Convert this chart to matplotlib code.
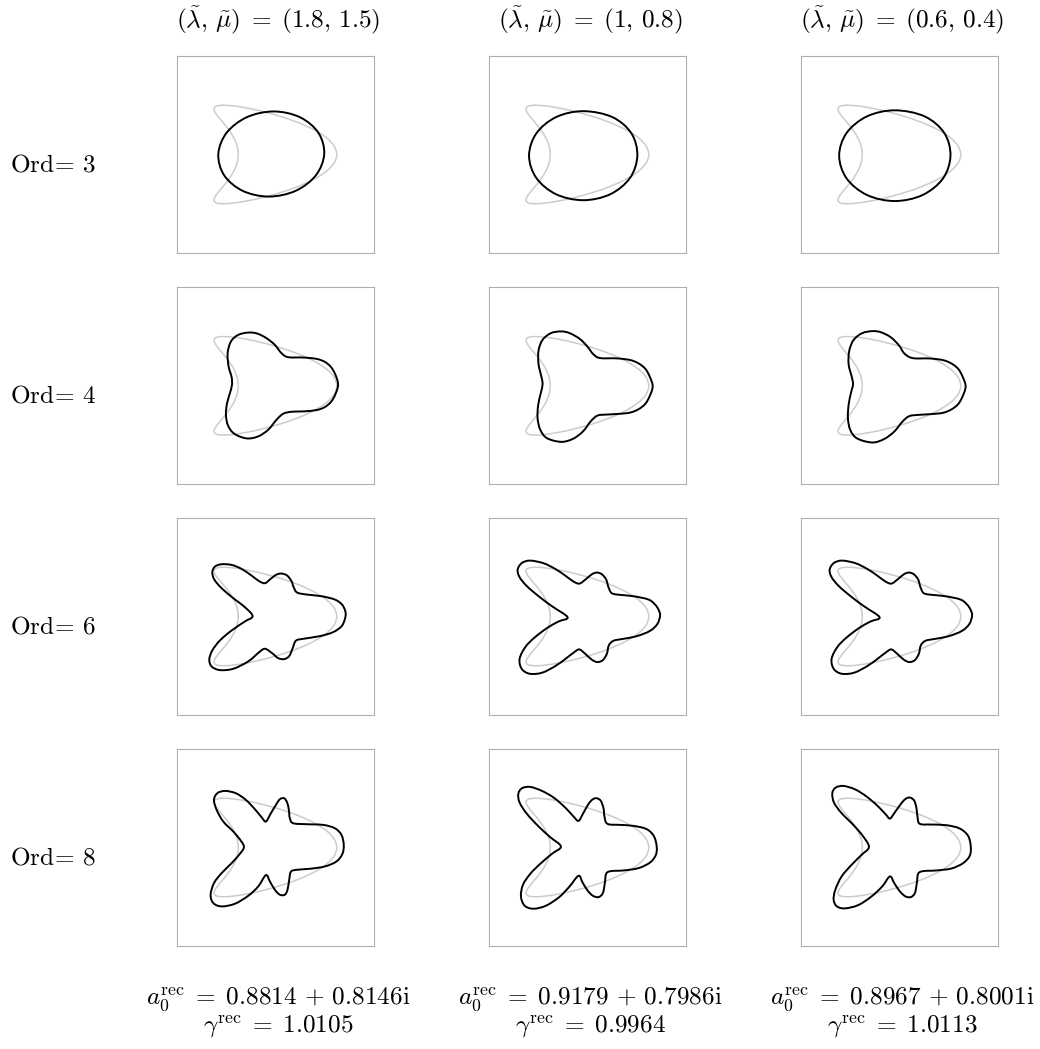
import numpy as np
import matplotlib
matplotlib.use("Agg")
import matplotlib.pyplot as plt
from matplotlib.path import Path
from matplotlib.patches import PathPatch

plt.rcParams['mathtext.fontset'] = 'cm'
plt.rcParams['font.family'] = 'serif'
plt.rcParams['font.serif'] = ['cmr10', 'DejaVu Serif']

# column parameters and reconstructed quantities
lam = ["1.8", "1", "0.6"]
mu = ["1.5", "0.8", "0.4"]
orders = [3, 4, 6, 8]
a0_rec = ["0.8814", "0.9179", "0.8967"]
a0_rec_im = ["0.8146", "0.7986", "0.8001"]
gamma_rec = ["1.0105", "0.9964", "1.0113"]

# exact obstacle (gray), upper half, lower half mirrored
kite_x = [1.000, 0.946, 0.788, 0.541, 0.229, -0.120, -0.475, -0.806, -1.087,
          -1.300, -1.434, -1.490, -1.475, -1.406, -1.303, -1.191, -1.092, -1.024, -1.000]
kite_y = [0.000, 0.174, 0.342, 0.500, 0.643, 0.766, 0.866, 0.940, 0.985,
          1.000, 0.985, 0.940, 0.866, 0.766, 0.643, 0.500, 0.342, 0.174, 0.000]

# reconstructed boundaries (black), points along the curve, counter-clockwise
rec_o3_c1 = [(0.745, 0.01), (0.626, 0.442), (0.25, 0.758), (-0.28, 0.874), (-0.824, 0.758),
             (-1.236, 0.442), (-1.405, 0.01), (-1.286, -0.422), (-0.91, -0.738), (-0.38, -0.854),
             (0.164, -0.738), (0.576, -0.422)]
rec_o3_c2 = [(0.768, -0.024), (0.648, 0.428), (0.262, 0.759), (-0.332, 0.88), (-0.882, 0.759),
             (-1.283, 0.428), (-1.431, -0.024), (-1.283, -0.476), (-0.882, -0.807), (-0.332, -0.928),
             (0.218, -0.807), (0.619, -0.476)]
rec_o3_c3 = [(0.791, -0.024), (0.665, 0.437), (0.266, 0.774), (-0.339, 0.897), (-0.904, 0.774),
             (-1.318, 0.437), (-1.469, -0.024), (-1.318, -0.485), (-0.904, -0.822), (-0.339, -0.945),
             (0.226, -0.822), (0.640, -0.485)]

rec_o4_c1 = [(1.027, 0.027), (0.973, 0.223), (0.885, 0.378), (0.757, 0.486), (0.588, 0.547),
             (0.318, 0.574), (0.014, 0.581), (-0.122, 0.662), (-0.257, 0.831), (-0.426, 0.966),
             (-0.615, 1.061), (-0.797, 1.081), (-1.0, 1.034), (-1.149, 0.899), (-1.216, 0.662),
             (-1.196, 0.392), (-1.135, 0.176), (-1.128, 0.02), (-1.169, -0.149), (-1.23, -0.365),
             (-1.25, -0.588), (-1.209, -0.804), (-1.081, -0.973), (-0.831, -1.068), (-0.595, -1.027),
             (-0.392, -0.892), (-0.223, -0.689), (-0.088, -0.568), (0.081, -0.527), (0.318, -0.520),
             (0.588, -0.493), (0.757, -0.432), (0.885, -0.324), (0.973, -0.169)]
rec_o4_c2 = [(1.080, -0.010), (1.019, 0.188), (0.930, 0.345), (0.793, 0.455), (0.622, 0.523),
             (0.349, 0.557), (0.007, 0.564), (-0.130, 0.646), (-0.246, 0.797), (-0.403, 0.954),
             (-0.608, 1.070), (-0.779, 1.104), (-0.985, 1.070), (-1.156, 0.933), (-1.238, 0.715),
             (-1.238, 0.441), (-1.176, 0.168), (-1.156, 0.031), (-1.190, -0.140), (-1.244, -0.380),
             (-1.258, -0.653), (-1.203, -0.892), (-1.067, -1.063), (-0.779, -1.138), (-0.540, -1.077),
             (-0.335, -0.926), (-0.178, -0.721), (-0.041, -0.605), (0.144, -0.584), (0.383, -0.571),
             (0.622, -0.544), (0.793, -0.475), (0.930, -0.366), (1.019, -0.209)]
rec_o4_c3 = [(1.099, -0.014), (1.038, 0.185), (0.949, 0.342), (0.812, 0.452), (0.640, 0.521),
             (0.366, 0.555), (0.024, 0.562), (-0.147, 0.658), (-0.250, 0.815), (-0.421, 0.986),
             (-0.627, 1.089), (-0.798, 1.110), (-1.003, 1.068), (-1.175, 0.932), (-1.264, 0.712),
             (-1.277, 0.438), (-1.209, 0.164), (-1.188, 0.027), (-1.229, -0.144), (-1.277, -0.384),
             (-1.291, -0.658), (-1.243, -0.897), (-1.106, -1.068), (-0.798, -1.151), (-0.558, -1.082),
             (-0.353, -0.932), (-0.182, -0.726), (-0.045, -0.616), (0.161, -0.589), (0.401, -0.575),
             (0.640, -0.548), (0.812, -0.479), (0.949, -0.370), (1.038, -0.212)]

rec_o6_c1 = [(1.182, 0.054), (1.155, 0.16), (1.095, 0.255), (0.959, 0.345), (0.689, 0.412),
             (0.385, 0.446), (0.196, 0.486), (0.128, 0.588), (0.081, 0.716), (-0.007, 0.831),
             (-0.122, 0.872), (-0.236, 0.845), (-0.358, 0.750), (-0.459, 0.676), (-0.574, 0.716),
             (-0.730, 0.831), (-0.932, 0.966), (-1.135, 1.047), (-1.338, 1.061), (-1.473, 1.014),
             (-1.527, 0.899), (-1.486, 0.750), (-1.338, 0.574), (-1.101, 0.372), (-0.865, 0.189),
             (-0.709, 0.007), (-0.865, -0.101), (-1.135, -0.284), (-1.372, -0.486), (-1.527, -0.689),
             (-1.588, -0.872), (-1.541, -1.014), (-1.372, -1.088), (-1.101, -1.061), (-0.797, -0.912),
             (-0.574, -0.723), (-0.459, -0.655), (-0.324, -0.736), (-0.189, -0.845), (-0.068, -0.865),
             (0.034, -0.804), (0.101, -0.655), (0.169, -0.493), (0.318, -0.453), (0.655, -0.399),
             (0.926, -0.318), (1.095, -0.2), (1.16, -0.07)]
rec_o6_c2 = [(1.230, 0.020), (1.200, 0.135), (1.130, 0.240), (0.993, 0.345), (0.689, 0.412),
             (0.419, 0.439), (0.250, 0.473), (0.182, 0.595), (0.135, 0.750), (0.047, 0.858),
             (-0.054, 0.892), (-0.155, 0.858), (-0.270, 0.764), (-0.405, 0.669), (-0.527, 0.709),
             (-0.696, 0.831), (-0.899, 0.966), (-1.135, 1.081), (-1.405, 1.135), (-1.574, 1.088),
             (-1.662, 0.953), (-1.622, 0.797), (-1.473, 0.615), (-1.236, 0.412), (-0.966, 0.209),
             (-0.649, -0.014), (-0.831, -0.101), (-1.068, -0.236), (-1.324, -0.432), (-1.507, -0.622),
             (-1.622, -0.858), (-1.581, -1.061), (-1.419, -1.162), (-1.169, -1.142), (-0.899, -1.007),
             (-0.662, -0.838), (-0.493, -0.709), (-0.405, -0.669), (-0.291, -0.757), (-0.155, -0.878),
             (-0.041, -0.926), (0.068, -0.885), (0.149, -0.757), (0.189, -0.588), (0.284, -0.493),
             (0.486, -0.453), (0.757, -0.399), (1.027, -0.291), (1.176, -0.149)]
rec_o6_c3 = [(1.230, 0.020), (1.200, 0.135), (1.130, 0.240), (0.993, 0.345), (0.689, 0.412),
             (0.419, 0.439), (0.250, 0.473), (0.182, 0.595), (0.135, 0.750), (0.047, 0.858),
             (-0.054, 0.892), (-0.155, 0.858), (-0.270, 0.764), (-0.405, 0.669), (-0.527, 0.709),
             (-0.696, 0.831), (-0.899, 0.966), (-1.135, 1.081), (-1.405, 1.135), (-1.574, 1.088),
             (-1.662, 0.953), (-1.622, 0.797), (-1.473, 0.615), (-1.236, 0.412), (-0.966, 0.209),
             (-0.649, -0.014), (-0.831, -0.101), (-1.068, -0.236), (-1.324, -0.432), (-1.507, -0.622),
             (-1.622, -0.858), (-1.581, -1.061), (-1.419, -1.162), (-1.169, -1.142), (-0.899, -1.007),
             (-0.662, -0.838), (-0.493, -0.709), (-0.405, -0.669), (-0.291, -0.757), (-0.155, -0.878),
             (-0.041, -0.926), (0.068, -0.885), (0.149, -0.757), (0.189, -0.588), (0.284, -0.493),
             (0.486, -0.453), (0.757, -0.399), (1.027, -0.291), (1.176, -0.149)]

rec_o8_c1 = [(1.142, 0.054), (1.095, 0.257), (0.959, 0.392), (0.723, 0.459), (0.385, 0.473),
             (0.115, 0.493), (0.047, 0.595), (0.027, 0.764), (-0.007, 0.912), (-0.068, 1.0),
             (-0.155, 0.980), (-0.236, 0.865), (-0.345, 0.682), (-0.439, 0.527), (-0.527, 0.615),
             (-0.662, 0.777), (-0.845, 0.966), (-1.047, 1.101), (-1.270, 1.149), (-1.426, 1.101),
             (-1.493, 0.966), (-1.439, 0.764), (-1.304, 0.527), (-1.101, 0.324), (-0.946, 0.135),
             (-0.885, 0.007), (-0.966, -0.128), (-1.135, -0.318), (-1.338, -0.520), (-1.493, -0.723),
             (-1.561, -0.959), (-1.507, -1.128), (-1.338, -1.196), (-1.068, -1.142), (-0.797, -0.980),
             (-0.595, -0.791), (-0.439, -0.561), (-0.358, -0.689), (-0.257, -0.858), (-0.155, -0.959),
             (-0.054, -0.959), (0.0, -0.858), (0.034, -0.655), (0.068, -0.493), (0.182, -0.453),
             (0.453, -0.432), (0.757, -0.385), (0.993, -0.284), (1.115, -0.128)]
rec_o8_c2 = [(1.162, 0.007), (1.108, 0.223), (0.959, 0.372), (0.689, 0.439), (0.419, 0.459),
             (0.162, 0.480), (0.101, 0.628), (0.081, 0.797), (0.027, 0.946), (-0.054, 1.0),
             (-0.135, 0.980), (-0.223, 0.885), (-0.338, 0.682), (-0.426, 0.541), (-0.527, 0.628),
             (-0.696, 0.811), (-0.932, 1.014), (-1.169, 1.149), (-1.405, 1.230), (-1.574, 1.203),
             (-1.649, 1.088), (-1.622, 0.912), (-1.473, 0.682), (-1.236, 0.426), (-1.0, 0.209),
             (-0.784, 0.020), (-0.966, -0.128), (-1.203, -0.331), (-1.405, -0.534), (-1.554, -0.757),
             (-1.595, -0.993), (-1.520, -1.182), (-1.338, -1.243), (-1.088, -1.182), (-0.818, -1.007),
             (-0.608, -0.791), (-0.426, -0.574), (-0.345, -0.709), (-0.243, -0.872), (-0.135, -0.980),
             (-0.020, -1.007), (0.068, -0.926), (0.108, -0.723), (0.135, -0.534), (0.230, -0.480),
             (0.486, -0.466), (0.791, -0.419), (1.027, -0.304), (1.142, -0.155)]
rec_o8_c3 = [(1.203, 0.020), (1.149, 0.236), (0.980, 0.385), (0.709, 0.453), (0.405, 0.466),
             (0.169, 0.480), (0.122, 0.615), (0.101, 0.797), (0.054, 0.953), (-0.034, 1.014),
             (-0.122, 0.986), (-0.216, 0.885), (-0.351, 0.696), (-0.439, 0.588), (-0.527, 0.676),
             (-0.689, 0.845), (-0.912, 1.034), (-1.149, 1.182), (-1.385, 1.250), (-1.541, 1.216),
             (-1.608, 1.101), (-1.574, 0.912), (-1.419, 0.696), (-1.182, 0.459), (-0.980, 0.223),
             (-0.865, 0.007), (-1.014, -0.149), (-1.216, -0.351), (-1.419, -0.588), (-1.547, -0.858),
             (-1.581, -1.061), (-1.514, -1.196), (-1.351, -1.236), (-1.081, -1.169), (-0.811, -0.993),
             (-0.595, -0.791), (-0.439, -0.588), (-0.351, -0.723), (-0.236, -0.892), (-0.122, -0.993),
             (-0.014, -1.007), (0.068, -0.926), (0.108, -0.723), (0.135, -0.534), (0.236, -0.480),
             (0.507, -0.466), (0.811, -0.426), (1.047, -0.318), (1.182, -0.169)]

recs = [[rec_o3_c1, rec_o3_c2, rec_o3_c3],
        [rec_o4_c1, rec_o4_c2, rec_o4_c3],
        [rec_o6_c1, rec_o6_c2, rec_o6_c3],
        [rec_o8_c1, rec_o8_c2, rec_o8_c3]]


def closed_curve(pts):
    # closed Catmull-Rom through the points, drawn as cubic Bezier segments
    p = np.asarray(pts, dtype=float)
    n = len(p)
    verts = [p[0]]
    codes = [Path.MOVETO]
    for i in range(n):
        p0, p1, p2, p3 = p[i - 1], p[i], p[(i + 1) % n], p[(i + 2) % n]
        verts += [p1 + (p2 - p0) / 6.0, p2 - (p3 - p1) / 6.0, p2]
        codes += [Path.CURVE4] * 3
    return Path(verts, codes)


kite = list(zip(kite_x, kite_y)) + list(zip(kite_x[-2:0:-1], [-v for v in kite_y[-2:0:-1]]))

W, H = 1040, 1049
fig = plt.figure(figsize=(W / 100, H / 100), dpi=100)

box = 197
col_left = [176.7, 488.7, 800.7]
row_top = [56, 287.3, 518, 749]
fs = 18.2

for i, order in enumerate(orders):
    for j in range(3):
        ax = fig.add_axes([col_left[j] / W, 1 - (row_top[i] + box) / H, box / W, box / H])
        ax.add_patch(PathPatch(closed_curve(kite), fill=False, ec='#cccccc', lw=1.1))
        ax.add_patch(PathPatch(closed_curve(recs[i][j]), fill=False, ec='black', lw=1.4))
        ax.set_xlim(-2.25, 1.75)
        ax.set_ylim(-2, 2)
        ax.set_aspect('equal')
        ax.set_xticks([])
        ax.set_yticks([])
        for s in ax.spines.values():
            s.set_color('#b0b0b0')
            s.set_linewidth(0.8)
    fig.text(10 / W, 1 - (row_top[i] + 115.5) / H, r'$\mathrm{Ord}\!=\,%d$' % order,
             ha='left', va='baseline', fontsize=fs)

for j in range(3):
    cx = (col_left[j] + box / 2 + 3) / W
    fig.text(cx, 1 - 28 / H, r'$(\tilde{\lambda},\,\tilde{\mu})\;=\;(%s,\,%s)$' % (lam[j], mu[j]),
             ha='center', va='baseline', fontsize=fs)
    fig.text(cx, 1 - 1004 / H,
             r'$a_0^{\mathrm{rec}}\;=\;%s\,+\,%s\mathrm{i}$' % (a0_rec[j], a0_rec_im[j]),
             ha='center', va='baseline', fontsize=fs)
    fig.text(cx, 1 - 1032 / H, r'$\gamma^{\mathrm{rec}}\;=\;%s$' % gamma_rec[j],
             ha='center', va='baseline', fontsize=fs)

fig.savefig('out.png', dpi=100)
